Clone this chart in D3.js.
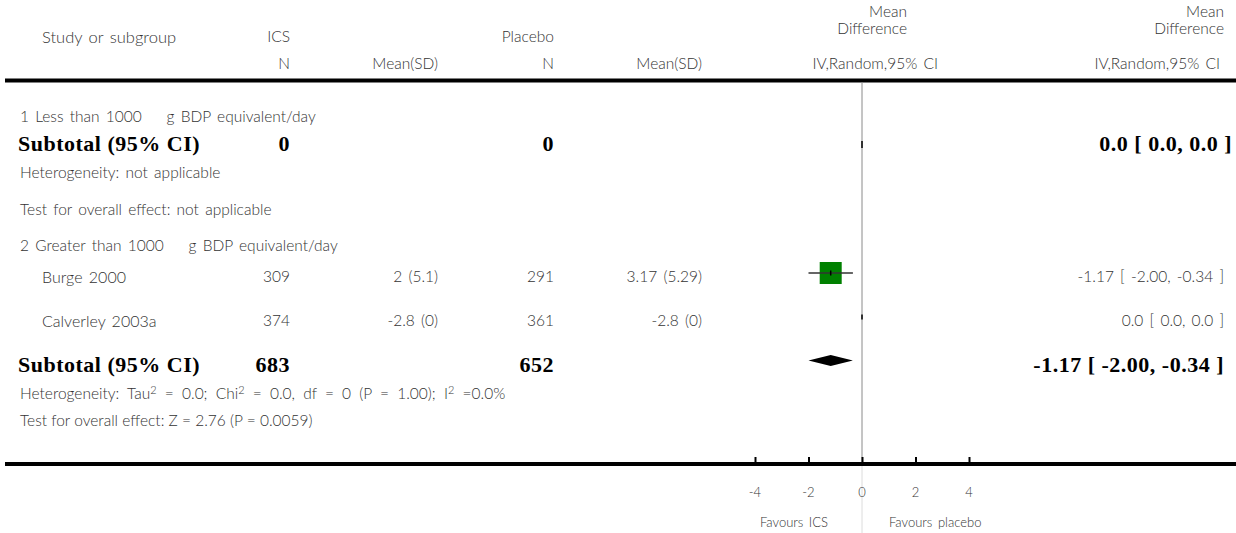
<!DOCTYPE html>
<html>
<head>
<meta charset="utf-8">
<script src="https://cdn.jsdelivr.net/npm/d3@7"></script>
<style>
  body { margin: 0; background: #fff; }
  text { font-family: Lato, "Open Sans", sans-serif; font-weight: 300; fill: #333; white-space: pre; word-spacing: 2px; }
  .bold { font-family: "Liberation Serif", serif; font-weight: bold; fill: #000; word-spacing: 0; letter-spacing: 0.5px; }
  .wide { word-spacing: 4px; }
  .tight { word-spacing: 0; }
</style>
</head>
<body>
<div id="chart"></div>
<script>
// forest plot data
const studies = ["Burge 2000", "Calverley 2003a"];
const icsN = [309, 374];
const icsMean = ["2 (5.1)", "-2.8 (0)"];
const placeboN = [291, 361];
const placeboMean = ["3.17 (5.29)", "-2.8 (0)"];
const md = [-1.17, 0.0];
const ciLow = [-2.00, 0.0];
const ciHigh = [-0.34, 0.0];
const weights = [100, 0];
const ciLabels = ["-1.17 [ -2.00, -0.34 ]", "0.0 [ 0.0, 0.0 ]"];

const subTotalsIcs = [0, 683];
const subTotalsPlacebo = [0, 652];
const subMd = [0.0, -1.17];
const subLow = [0.0, -2.00];
const subHigh = [0.0, -0.34];
const subLabels = ["0.0 [ 0.0, 0.0 ]", "-1.17 [ -2.00, -0.34 ]"];

const xTicks = [-4, -2, 0, 2, 4];

const width = 1236, height = 533;
const fs = 15.5, bfs = 22;

const svg = d3.select("#chart").append("svg")
  .attr("width", width)
  .attr("height", height);

// x scale for the plot
const x = d3.scaleLinear().domain([-4, 4]).range([755, 969]);

// column anchors
const col = { study: 42, group: 20, icsN: 290, icsM: 438, plN: 554, plM: 702, plot: 907, ci: 1224 };

// row positions
const row = {
  g1: 117, sub1: 143, het1: 173, test1: 210,
  g2: 246, s0: 277, s1: 321, sub2: 364, het2: 394, test2: 421,
  axis: 464
};

function txt(xp, yp, s, anchor, cls, size) {
  return svg.append("text")
    .attr("x", xp).attr("y", yp)
    .attr("dy", "0.35em")
    .attr("text-anchor", anchor || "start")
    .attr("class", cls || null)
    .style("font-size", (size || fs) + "px")
    .text(s);
}

// header
txt(col.study, 37, "Study or subgroup").style("font-size", "16.5px");
txt(col.icsN, 37, "ICS", "end");
txt(col.plN, 37, "Placebo", "end");
txt(col.plot, 12, "Mean", "end");
txt(col.plot, 29, "Difference", "end");
txt(col.ci, 12, "Mean", "end");
txt(col.ci, 29, "Difference", "end");
txt(col.icsN, 64, "N", "end");
txt(col.icsM, 64, "Mean(SD)", "end");
txt(col.plN, 64, "N", "end");
txt(col.plM, 64, "Mean(SD)", "end");
txt(938, 64, "IV,Random,95% CI", "end");
txt(col.ci - 4, 64, "IV,Random,95% CI", "end");

svg.append("line").attr("x1", 5).attr("x2", width).attr("y1", 80.5).attr("y2", 80.5)
  .attr("stroke", "#000").attr("stroke-width", 4);

// zero line
svg.append("line").attr("x1", x(0)).attr("x2", x(0)).attr("y1", 82).attr("y2", row.axis)
  .attr("stroke", "#8a8a8a").attr("stroke-width", 1);
svg.append("line").attr("x1", x(0)).attr("x2", x(0)).attr("y1", row.axis).attr("y2", height)
  .attr("stroke", "#dcdcdc").attr("stroke-width", 1);

// subgroup 1
txt(col.group, row.g1, "1 Less than 1000    g BDP equivalent/day");
txt(18, row.sub1, "Subtotal (95% CI)", "start", "bold", bfs);
txt(col.icsN, row.sub1, subTotalsIcs[0], "end", "bold", bfs);
txt(col.plN, row.sub1, subTotalsPlacebo[0], "end", "bold", bfs);
txt(col.ci + 8, row.sub1, subLabels[0], "end", "bold", bfs);
txt(col.group, row.het1, "Heterogeneity: not applicable");
txt(col.group, row.test1, "Test for overall effect: not applicable");

// subgroup 2
txt(col.group, row.g2, "2 Greater than 1000    g BDP equivalent/day");
const sRows = [row.s0, row.s1];
studies.forEach((s, i) => {
  const yp = sRows[i];
  txt(col.study, yp, s).style("font-size", "16px");
  txt(col.icsN, yp, icsN[i], "end");
  txt(col.icsM, yp, icsMean[i], "end");
  txt(col.plN, yp, placeboN[i], "end");
  txt(col.plM, yp, placeboMean[i], "end");
  txt(col.ci, yp, ciLabels[i], "end");
});
txt(18, row.sub2, "Subtotal (95% CI)", "start", "bold", bfs);
txt(col.icsN, row.sub2, subTotalsIcs[1], "end", "bold", bfs);
txt(col.plN, row.sub2, subTotalsPlacebo[1], "end", "bold", bfs);
txt(col.ci, row.sub2, subLabels[1], "end", "bold", bfs);

const het = txt(col.group, row.het2, "", "start", "wide");
het.append("tspan").text("Heterogeneity: Tau");
het.append("tspan").attr("dy", -5).style("font-size", "11px").text("2");
het.append("tspan").attr("dy", 5).text(" = 0.0; Chi");
het.append("tspan").attr("dy", -5).style("font-size", "11px").text("2");
het.append("tspan").attr("dy", 5).text(" = 0.0, df = 0 (P = 1.00); I");
het.append("tspan").attr("dy", -5).style("font-size", "11px").text("2");
het.append("tspan").attr("dy", 5).text(" =0.0%");
txt(col.group, row.test2, "Test for overall effect: Z = 2.76 (P = 0.0059)", "start", "tight");

// study marks
const boxSize = d3.scaleSqrt().domain([0, 100]).range([0, 22]);
studies.forEach((s, i) => {
  const yp = sRows[i] - 4;
  const g = svg.append("g");
  if (weights[i] > 0) {
    const b = boxSize(weights[i]);
    g.append("rect")
      .attr("x", x(md[i]) - b / 2).attr("y", yp - b / 2)
      .attr("width", b).attr("height", b)
      .attr("fill", "#008000");
    g.append("line")
      .attr("x1", x(ciLow[i])).attr("x2", x(ciHigh[i]))
      .attr("y1", yp).attr("y2", yp)
      .attr("stroke", "#333").attr("stroke-width", 1.5);
  }
  g.append("line")
    .attr("x1", x(md[i])).attr("x2", x(md[i]))
    .attr("y1", yp - 2.5).attr("y2", yp + 2.5)
    .attr("stroke", "#000").attr("stroke-width", 1.5);
});

// subtotal 1 (empty)
svg.append("line")
  .attr("x1", x(subMd[0])).attr("x2", x(subMd[0]))
  .attr("y1", row.sub1 - 2).attr("y2", row.sub1 + 5)
  .attr("stroke", "#000").attr("stroke-width", 1.5);

// subtotal 2 diamond
const dy = row.sub2 - 3.5;
svg.append("path")
  .attr("d", `M${x(subLow[1])},${dy} L${x(subMd[1])},${dy - 5.5} L${x(subHigh[1])},${dy} L${x(subMd[1])},${dy + 5.5} Z`)
  .attr("fill", "#000");

// axis
svg.append("line").attr("x1", 5).attr("x2", width).attr("y1", row.axis).attr("y2", row.axis)
  .attr("stroke", "#000").attr("stroke-width", 4);

const axis = svg.append("g").attr("transform", `translate(0,${row.axis})`)
  .call(d3.axisTop(x).tickValues(xTicks).tickSize(7).tickFormat(""));
axis.select(".domain").remove();
axis.selectAll(".tick line").attr("stroke", "#000").attr("stroke-width", 2);

xTicks.forEach(t => txt(x(t), 492, t, "middle", null, 13));

txt(828, 522, "Favours ICS", "end", null, 13);
txt(889, 522, "Favours placebo", "start", null, 13);
</script>
</body>
</html>
